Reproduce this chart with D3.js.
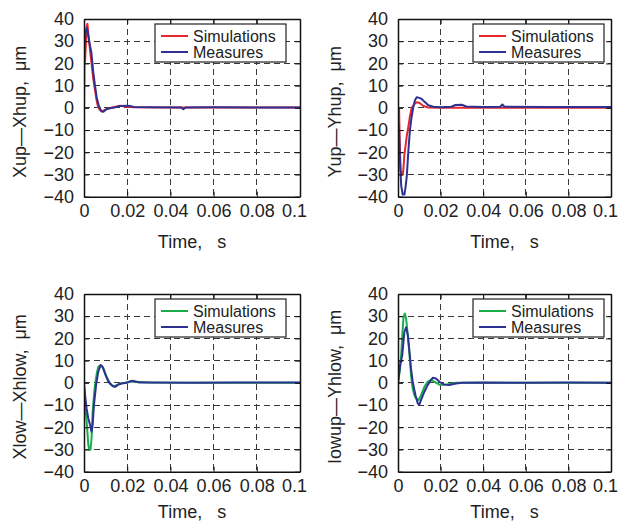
<!DOCTYPE html>
<html>
<head>
<meta charset="utf-8">
<script src="https://cdn.jsdelivr.net/npm/d3@7"></script>
<style>
  html, body { margin: 0; padding: 0; background: #fff; }
  svg { display: block; font-family: "Liberation Sans", Arial, sans-serif; }
  text { white-space: pre; }
</style>
</head>
<body>
<script>
// Axis ticks shared by all four panels
const xTicks = [0, 0.02, 0.04, 0.06, 0.08, 0.1];
const xTickLabels = ["0", "0.02", "0.04", "0.06", "0.08", "0.1"];
const yTicks = [-40, -30, -20, -10, 0, 10, 20, 30, 40];
const legendNames = ["Simulations", "Measures"];
const timeTitle = "Time,   s";

// Upper bearing, X direction
const xupSimT  = [0, 0.0002, 0.0005, 0.0009, 0.0013, 0.0016, 0.0020, 0.0028, 0.0036, 0.0043, 0.0051, 0.0059, 0.0066, 0.0074, 0.0082, 0.0095, 0.0110, 0.0136, 0.0167, 0.0190, 0.0230, 0.0400, 0.0700, 0.1000];
const xupSimV  = [0, 19, 21, 30, 37, 37.8, 33, 26, 19, 13, 8, 3, 0.2, -1, -1.6, -1, -0.3, 0.3, 0.9, 0.6, 0.3, 0.2, 0.2, 0.2];
const xupMeasT = [0, 0.0004, 0.0008, 0.0012, 0.0018, 0.0025, 0.0030, 0.0034, 0.0038, 0.0043, 0.0051, 0.0059, 0.0067, 0.0075, 0.0082, 0.0090, 0.0105, 0.0120, 0.0136, 0.0167, 0.0200, 0.0213, 0.0230, 0.0300, 0.0450, 0.0460, 0.0470, 0.0600, 0.0800, 0.1000];
const xupMeasV = [20, 31, 34, 36, 34, 29.5, 27, 25, 21, 16, 10, 4.6, 1.5, -0.5, -1.6, -1.8, -0.5, -0.2, 0, 0.8, 1.0, 0.8, 0.4, 0.3, 0.2, -0.6, 0.2, 0.3, 0.2, 0.2];

// Upper bearing, Y direction
const yupSimT  = [0, 0.0005, 0.0008, 0.0012, 0.0017, 0.0022, 0.0025, 0.0030, 0.0033, 0.0041, 0.0049, 0.0056, 0.0064, 0.0072, 0.0080, 0.0088, 0.0100, 0.0119, 0.0140, 0.0200, 0.0500, 0.1000];
const yupSimV  = [0, 0, -15, -28, -30, -30, -28, -21, -18.8, -12.8, -8.3, -3.8, 0, 1, 2, 2.5, 2.3, 0.8, 0.2, 0, 0, 0];
const yupMeasT = [0, 0.0005, 0.0010, 0.0015, 0.0022, 0.0030, 0.0035, 0.0041, 0.0049, 0.0056, 0.0064, 0.0072, 0.0080, 0.0088, 0.0100, 0.0111, 0.0125, 0.0142, 0.0166, 0.0200, 0.0250, 0.0270, 0.0300, 0.0320, 0.0400, 0.0480, 0.0490, 0.0500, 0.0700, 0.1000];
const yupMeasV = [-6, -10, -25, -35, -39, -39, -36, -31, -19, -10, -4, 0.5, 3.5, 4.8, 4.5, 4, 2.7, 1.2, 0.5, 0.3, 0.5, 1.3, 1.4, 0.6, 0.4, 0.5, 1.5, 0.5, 0.4, 0.4];

// Lower bearing, X direction
const xlowSimT  = [0, 0.0003, 0.0008, 0.0012, 0.0015, 0.0020, 0.0025, 0.0030, 0.0035, 0.0040, 0.0046, 0.0051, 0.0059, 0.0066, 0.0077, 0.0090, 0.0105, 0.0120, 0.0136, 0.0151, 0.0167, 0.0190, 0.0213, 0.0228, 0.0300, 0.0600, 0.1000];
const xlowSimV  = [0, -5, -13, -17, -21, -28, -30.3, -30, -25, -13, -5.6, -1, 4.2, 7.2, 8, 6.5, 2.7, -0.3, -1.8, -1, -0.3, 0, 0.5, 0.6, 0.2, 0.1, 0.1];
const xlowMeasT = [0, 0.0005, 0.0012, 0.0020, 0.0028, 0.0035, 0.0040, 0.0046, 0.0056, 0.0066, 0.0077, 0.0086, 0.0097, 0.0113, 0.0128, 0.0144, 0.0159, 0.0174, 0.0198, 0.0213, 0.0228, 0.0252, 0.0300, 0.0500, 0.0700, 0.1000];
const xlowMeasV = [-1, -5.6, -11.5, -16, -19, -22, -19, -10, -1, 5, 8, 7.2, 4.2, 0.5, -1, -1.8, -0.8, -0.3, 0, 0.7, 0.9, 0.2, 0.2, 0.1, 0.2, 0.2];

// Lower bearing, Y direction
const ylowSimT  = [0, 0.0010, 0.0015, 0.0020, 0.0026, 0.0032, 0.0038, 0.0046, 0.0054, 0.0061, 0.0069, 0.0077, 0.0085, 0.0097, 0.0108, 0.0124, 0.0139, 0.0155, 0.0170, 0.0194, 0.0217, 0.0241, 0.0272, 0.0400, 0.1000];
const ylowSimV  = [0, 6.5, 12.5, 21.5, 29.7, 31.2, 29, 21.5, 12.5, 3.5, -2.6, -5.6, -7, -7.8, -5.6, -1.8, 0.5, 1.5, 0.5, -0.8, -0.8, -0.5, 0, 0, 0];
const ylowMeasT = [0, 0.0010, 0.0020, 0.0030, 0.0038, 0.0046, 0.0054, 0.0061, 0.0069, 0.0082, 0.0093, 0.0100, 0.0108, 0.0124, 0.0139, 0.0163, 0.0178, 0.0194, 0.0217, 0.0241, 0.0272, 0.0303, 0.0400, 0.0600, 0.0800, 0.1000];
const ylowMeasV = [0, 8, 12.5, 23, 25, 21.5, 14, 6.5, 0.5, -5.6, -9.3, -9.8, -7.8, -4, -1, 2.3, 2, 0.5, -0.8, -1, -0.3, 0, 0.2, 0, 0.2, 0.1];

const RED = "#e8262b", BLUE = "#2e3192", GREEN = "#1aab4b";

const panels = [
  { id: "xup",  title: "Xup\u2014Xhup,  \u03BCm",   simColor: RED,   simT: xupSimT,  simV: xupSimV,  measT: xupMeasT,  measV: xupMeasV,
    box: { x0: 84,  x1: 300, y0: 19,  y1: 196.7 }, legendRight: 286, labelX: 20 },
  { id: "yup",  title: "Yup\u2014Yhup,  \u03BCm",   simColor: RED,   simT: yupSimT,  simV: yupSimV,  measT: yupMeasT,  measV: yupMeasV,
    box: { x0: 398, x1: 611, y0: 19,  y1: 196.7 }, legendRight: 604, labelX: 335 },
  { id: "xlow", title: "Xlow\u2014Xhlow,  \u03BCm", simColor: GREEN, simT: xlowSimT, simV: xlowSimV, measT: xlowMeasT, measV: xlowMeasV,
    box: { x0: 84,  x1: 300, y0: 294, y1: 471.7 }, legendRight: 286, labelX: 20 },
  { id: "ylow", title: "Iowup\u2014Yhlow,  \u03BCm", simColor: GREEN, simT: ylowSimT, simV: ylowSimV, measT: ylowMeasT, measV: ylowMeasV,
    box: { x0: 398, x1: 611, y0: 294, y1: 471.7 }, legendRight: 604, labelX: 335 }
];

const W = 621, H = 523;
const svg = d3.select("body").append("svg")
  .attr("width", W).attr("height", H);

function drawPanel(p) {
  const b = p.box;
  const x = d3.scaleLinear().domain([0, 0.1]).range([b.x0, b.x1]);
  const y = d3.scaleLinear().domain([-40, 40]).range([b.y1, b.y0]);
  const g = svg.append("g").attr("class", "panel-" + p.id);

  // dashed grid
  const grid = g.append("g").attr("stroke", "#3a3a3a").attr("stroke-width", 1)
    .attr("stroke-dasharray", "6,4").attr("shape-rendering", "crispEdges");
  grid.selectAll("line.v").data(xTicks.slice(1, -1)).join("line").attr("class", "v")
    .attr("x1", d => x(d)).attr("x2", d => x(d)).attr("y1", b.y0).attr("y2", b.y1);
  grid.selectAll("line.h").data(yTicks.slice(1, -1)).join("line").attr("class", "h")
    .attr("x1", b.x0).attr("x2", b.x1).attr("y1", d => y(d)).attr("y2", d => y(d));

  // series
  const clipId = "clip-" + p.id;
  g.append("clipPath").attr("id", clipId).append("rect")
    .attr("x", b.x0).attr("y", b.y0).attr("width", b.x1 - b.x0).attr("height", b.y1 - b.y0);
  const line = d3.line().x(d => x(d[0])).y(d => y(d[1]));
  const simPts = p.simT.map((t, i) => [t, p.simV[i]]);
  const measPts = p.measT.map((t, i) => [t, p.measV[i]]);
  const lines = g.append("g").attr("clip-path", `url(#${clipId})`).attr("fill", "none")
    .attr("stroke-width", 2).attr("stroke-linejoin", "round");
  lines.append("path").datum(simPts).attr("d", line).attr("stroke", p.simColor);
  lines.append("path").datum(measPts).attr("d", line).attr("stroke", BLUE);

  // axes, ticks pointing inward on all four sides
  const bottom = g.append("g").attr("transform", `translate(0,${b.y1})`)
    .call(d3.axisBottom(x).tickValues(xTicks).tickSize(-5).tickSizeOuter(0).tickPadding(8)
      .tickFormat((d, i) => xTickLabels[i]));
  // the last label sits a little inside the frame edge
  bottom.selectAll(".tick text").filter((d, i) => i === xTicks.length - 1).attr("dx", -6);
  const left = g.append("g").attr("transform", `translate(${b.x0},0)`)
    .call(d3.axisLeft(y).tickValues(yTicks).tickSize(-5).tickSizeOuter(0).tickPadding(10));
  const top = g.append("g").attr("transform", `translate(0,${b.y0})`)
    .call(d3.axisTop(x).tickValues(xTicks).tickSize(-5).tickSizeOuter(0).tickFormat(""));
  const right = g.append("g").attr("transform", `translate(${b.x1},0)`)
    .call(d3.axisRight(y).tickValues(yTicks).tickSize(-5).tickSizeOuter(0).tickFormat(""));
  [bottom, left, top, right].forEach(a => {
    a.select(".domain").attr("stroke", "#111").attr("stroke-width", 1.5);
    a.selectAll(".tick line").attr("stroke", "#111");
    a.selectAll("text").attr("font-family", "'Liberation Sans', Arial, sans-serif")
      .attr("font-size", 18).attr("fill", "#222");
  });

  // axis titles (kept inside the canvas bottom edge)
  g.append("text").text(timeTitle)
    .attr("x", (b.x0 + b.x1) / 2).attr("y", Math.min(b.y1 + 51, H - 5))
    .attr("text-anchor", "middle").attr("font-size", 18).attr("fill", "#222");
  g.append("text").text(p.title)
    .attr("transform", `translate(${p.labelX},${(b.y0 + b.y1) / 2 + 4}) rotate(-90)`)
    .attr("text-anchor", "middle").attr("dominant-baseline", "central")
    .attr("font-size", 18).attr("fill", "#222");

  // legend
  const lw = 131, lh = 38;
  const lx = p.legendRight - lw, ly = b.y0 + 5;
  const lg = g.append("g");
  lg.append("rect").attr("x", lx).attr("y", ly).attr("width", lw).attr("height", lh)
    .attr("fill", "#fff").attr("stroke", "#222").attr("stroke-width", 1.2);
  const colors = [p.simColor, BLUE];
  legendNames.forEach((name, i) => {
    const cy = ly + 12 + i * 16;
    lg.append("line").attr("x1", lx + 6).attr("x2", lx + 33).attr("y1", cy).attr("y2", cy)
      .attr("stroke", colors[i]).attr("stroke-width", 2);
    lg.append("text").text(name).attr("x", lx + 38).attr("y", cy)
      .attr("dominant-baseline", "central").attr("font-size", 16).attr("fill", "#222");
  });
}

panels.forEach(drawPanel);
</script>
</body>
</html>
